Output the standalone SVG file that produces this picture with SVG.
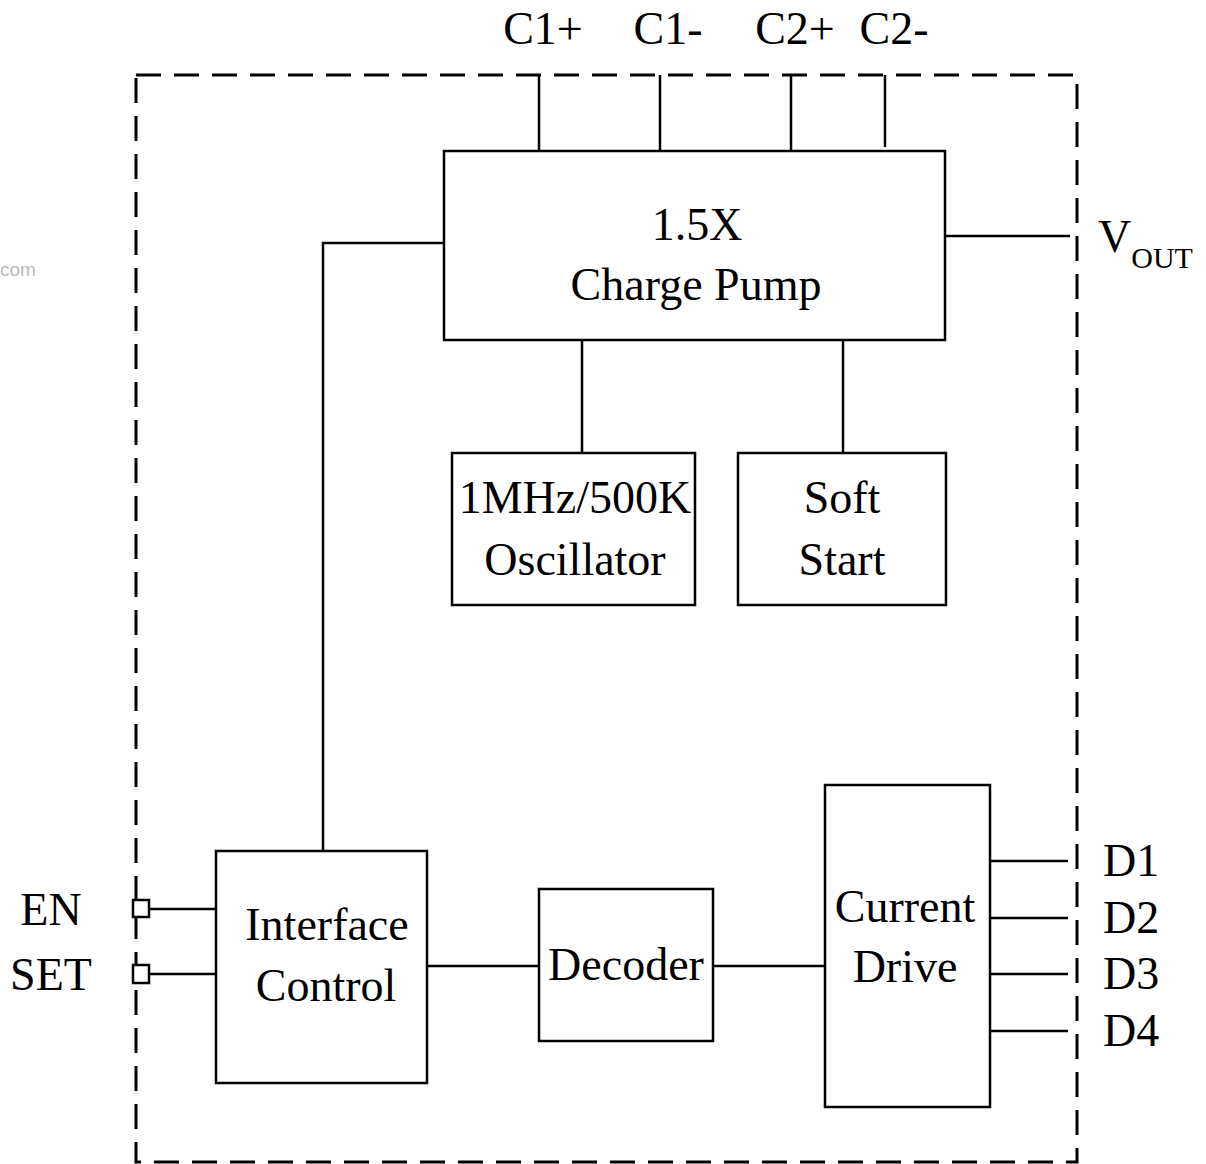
<svg xmlns="http://www.w3.org/2000/svg" width="1206" height="1164" viewBox="0 0 1206 1164">
<style>
.box{fill:none;stroke:#000;stroke-width:2.5}
.w{fill:none;stroke:#000;stroke-width:2.5}
.t{font-family:"Liberation Serif","Times New Roman",serif;font-size:46px;fill:#000}
.c{text-anchor:middle}
.dash{fill:none;stroke:#000;stroke-width:3;stroke-dasharray:25 13}
</style>
<rect width="1206" height="1164" fill="#fff"/>
<text x="0" y="276" style="font-family:'Liberation Sans',Arial,sans-serif;font-size:19px;fill:#bbb">com</text>
<g id="boundary">
<rect class="dash" x="136" y="75" width="941" height="1087"/>
</g>
<g id="connectors">
<path class="w" d="M539 75V151M660 75V151M791 75V151M885 75V147"/>
<path class="w" d="M945 236H1070"/>
<path class="w" d="M444 243H323V851"/>
<path class="w" d="M582 340V453M843 340V453"/>
<path class="w" d="M149 909H216M149 974H216"/>
<path class="w" d="M427 966H539M713 966H825"/>
<path class="w" d="M990 861H1068M990 918H1068M990 974H1068M990 1031H1068"/>
</g>
<g id="pins">
<rect class="box" x="133" y="900" width="16" height="17" style="fill:#fff"/>
<rect class="box" x="133" y="965" width="16" height="18" style="fill:#fff"/>
<text class="t c" x="543" y="44">C1+</text>
<text class="t c" x="668" y="44">C1-</text>
<text class="t c" x="795" y="44">C2+</text>
<text class="t c" x="894" y="44">C2-</text>
<text class="t" x="1098" y="252">V<tspan style="font-size:30px" dy="16">OUT</tspan></text>
<text class="t c" x="51" y="925">EN</text>
<text class="t c" x="51" y="990">SET</text>
<text class="t" x="1103" y="876">D1</text>
<text class="t" x="1103" y="933">D2</text>
<text class="t" x="1103" y="989">D3</text>
<text class="t" x="1103" y="1046">D4</text>
</g>
<g id="charge-pump">
<rect class="box" x="444" y="151" width="501" height="189"/>
<text class="t c" x="697" y="240">1.5X</text>
<text class="t c" x="696" y="300">Charge Pump</text>
</g>
<g id="oscillator">
<rect class="box" x="452" y="453" width="243" height="152"/>
<text class="t c" x="575" y="513">1MHz/500K</text>
<text class="t c" x="575" y="575">Oscillator</text>
</g>
<g id="soft-start">
<rect class="box" x="738" y="453" width="208" height="152"/>
<text class="t c" x="842" y="513">Soft</text>
<text class="t c" x="842" y="575">Start</text>
</g>
<g id="interface-control">
<rect class="box" x="216" y="851" width="211" height="232"/>
<text class="t c" x="327" y="940">Interface</text>
<text class="t c" x="326" y="1001">Control</text>
</g>
<g id="decoder">
<rect class="box" x="539" y="889" width="174" height="152"/>
<text class="t c" x="626" y="980">Decoder</text>
</g>
<g id="current-drive">
<rect class="box" x="825" y="785" width="165" height="322"/>
<text class="t c" x="905" y="922">Current</text>
<text class="t c" x="905" y="982">Drive</text>
</g>
</svg>
